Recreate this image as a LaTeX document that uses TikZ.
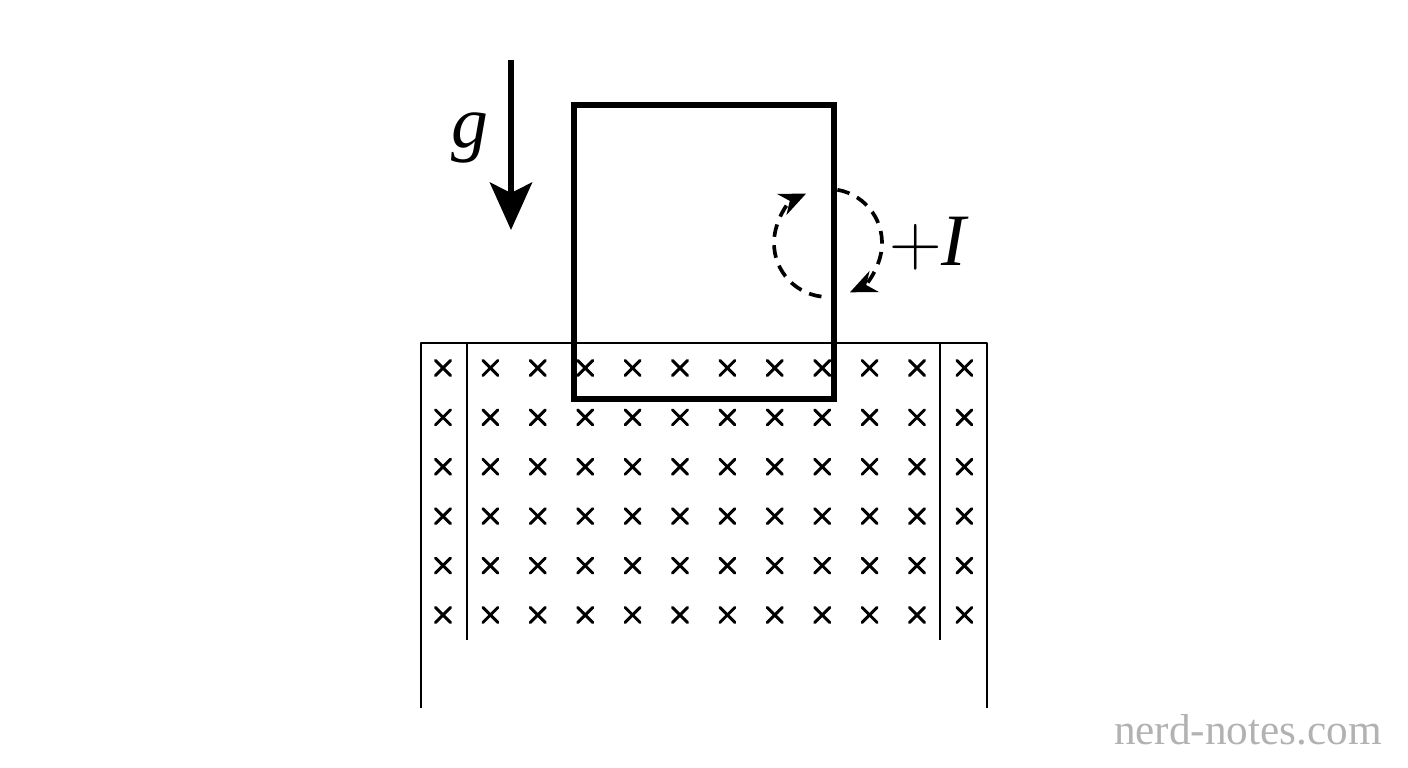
\documentclass[tikz,border=0pt]{standalone}
\usepackage{amsmath,amssymb}
\usepackage{fontspec}
\setmainfont{Liberation Serif}
\usepackage{tikz}
\usetikzlibrary{arrows.meta,positioning,calc}
\newcommand{\drawCross}[2]{
    \begin{scope}[shift={(#1,#2)}]
        \draw[line width=0.85pt] (-7.5,-7.5) -- (7.5,7.5);
        \draw[line width=0.85pt] (-7.5,7.5) -- (7.5,-7.5);
    \end{scope}
}

\begin{document}
\begin{tikzpicture}[line cap=round,line join=round,>=Stealth,x=0.01cm,y=0.01cm]
            \useasboundingbox (0,0) rectangle (1408,768);
            % --- Variables ---
            \coordinate (loopSW) at (574,369);
            \coordinate (loopNE) at (834,663);
            \coordinate (gtop) at (511,708);
            \coordinate (gbot) at (511,538);
            \coordinate (ic) at (828,525);

            \def\R{54}

            % Field region
            \draw[line width=0.5pt,line cap=butt] (421,60) -- (421,425) -- (987,425) -- (987,60);
            \draw[line width=0.5pt,line cap=butt] (467,425) -- (467,128);
            \draw[line width=0.5pt,line cap=butt] (940,425) -- (940,128);

            % Field into page
            \foreach \i in {0,...,11}
                \foreach \j in {0,...,5}
                    {\drawCross{443+47.4*\i}{400-49.4*\j}}

            % Loop
            \draw[line width=1.7pt,line cap=butt,line join=miter] (loopSW) rectangle (loopNE);

            % Gravity
            \draw[line width=1.6pt,line cap=butt,-{Stealth[length=13.5pt,width=12pt,inset=3pt]}] (gtop) -- (gbot);
            \node (glabel) at (470,630) {\fontsize{21}{24}\selectfont\itshape g};

            % Current direction
            \draw[line width=1.05pt,line cap=butt,dash pattern=on 3.6pt off 2.4pt,-{Stealth[length=7.5pt,width=6.5pt]}]
                ($(ic)+(263:\R)$) arc[start angle=263,end angle=114,radius=\R];
            \draw[line width=1.05pt,line cap=butt,dash pattern=on 3.6pt off 2.4pt,-{Stealth[length=7.5pt,width=6.5pt]}]
                ($(ic)+(80:\R)$) arc[start angle=80,end angle=-66,radius=\R];
            \node (ilabel) at (928,524) {\fontsize{21}{24}\selectfont$+$\itshape I};

            \node[text=black!30] (mark) at (1248,38) {\fontsize{12.3}{15}\selectfont nerd-notes.com};

        \end{tikzpicture}
\end{document}
